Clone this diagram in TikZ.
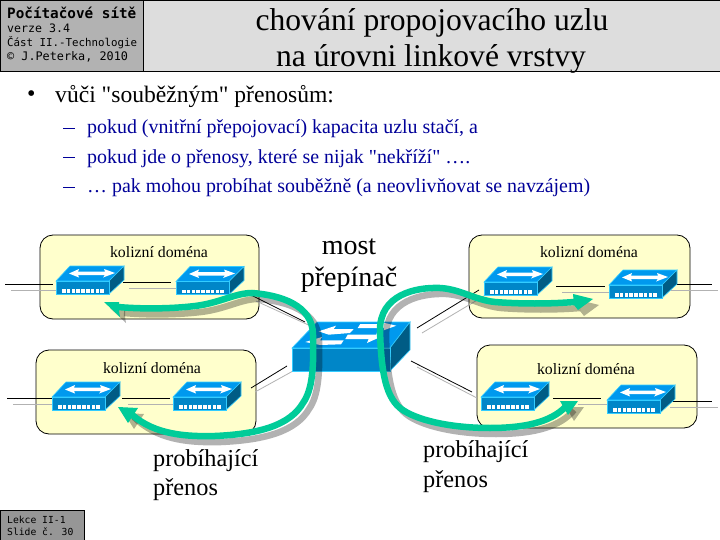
\documentclass[tikz,border=0pt]{standalone}
\usepackage{fontspec}
\setmainfont{Liberation Serif}[Ligatures=TeXOff]
\newfontfamily\monof{DejaVu Sans Mono}
\usetikzlibrary{calc}
\definecolor{hdrdark}{HTML}{B2B2B2}
\definecolor{hdrlight}{HTML}{DDDDDD}
\definecolor{footgray}{HTML}{969696}
\definecolor{domfill}{HTML}{FFFFCC}
\definecolor{netgreen}{HTML}{00CC99}
\definecolor{hubtop}{HTML}{0099EE}
\definecolor{hubfront}{HTML}{0086C8}
\definecolor{hubside}{HTML}{005C85}
\definecolor{hubedge}{HTML}{33CCFF}
\definecolor{txtblue}{HTML}{000099}
\tikzset{
  x=1pt,y=-1pt,
  dombox/.style={draw=black,line width=.8pt,fill=domfill,rounded corners=13pt},
  blackwire/.style={draw=black,line width=.8pt},
  graywire/.style={draw=black!30,line width=.8pt},
  hdr/.style={draw=black,line width=1.6pt},
  mono/.style={font=\monof,anchor=west,inner sep=0pt},
  domlabel/.style={font=\fontsize{15.8}{18}\selectfont,inner sep=0pt},
  biglabel/.style={font=\fontsize{24.3}{28}\selectfont,inner sep=0pt},
  itemtext/.style={anchor=west,inner sep=0pt,text=txtblue,font=\fontsize{19.9}{22}\selectfont},
  itemdash/.style={draw=txtblue,line width=1pt},
  pics/hub/.style={code={
    \fill[hubtop,draw=hubedge,line width=.6pt] (0,0)--(14,-15)--(68,-15)--(53,0)--cycle;
    \fill[hubside,draw=hubedge,line width=.6pt] (53,0)--(68,-15)--(68,-1)--(53,13)--cycle;
    \fill[hubfront,draw=hubedge,line width=.6pt] (0,0)rectangle(53,13);
    \foreach \i in {0,...,8}{\fill[white] (6+\i*4.8,8) rectangle ++(3.6,3.6);}
    \fill[white] (13,-7.5)--(23,-12)--(22,-9.5)--(49,-9.5)--(48,-12)--(59,-8)--(47,-3.5)--(49,-6)--(22,-6)--(23,-3.5)--cycle;
  }},
  pics/bigswitch/.style={code={
    \fill[hubtop,draw=hubedge,line width=.6pt] (0,0)--(25,-26)--(118,-26)--(98,0)--cycle;
    \fill[hubside,draw=hubedge,line width=.6pt] (98,0)--(118,-26)--(118,2)--(98,23)--cycle;
    \fill[hubfront,draw=hubedge,line width=.6pt] (0,0)rectangle(98,23);
    \fill[white] (26.7,-16.7)--(44,-22.3)--(41.7,-19)--(61.7,-19)--(58,-15)--(36.7,-13.3)--cycle;
    \fill[white] (13.3,-6)--(30,-11)--(28,-7.7)--(51.7,-7.7)--(49,-3.7)--(28,-3)--cycle;
    \fill[white] (68.3,-24)--(90,-24)--(90,-25.7)--(104.3,-22.3)--(91.7,-17.7)--(92.3,-20)--(65.7,-20)--cycle;
    \fill[white] (55.7,-13.3)--(84.3,-13.3)--(85,-15.7)--(88.3,-11)--(75,-5)--(76.7,-9)--(53.3,-9)--cycle;
  }},
}
\begin{document}
\begin{tikzpicture}
\useasboundingbox (0,0) rectangle (720,540);
\fill[white] (0,0) rectangle (720,540);
% header
\fill[hdrlight] (144,0) rectangle (720,72);
\fill[hdrdark] (0,0) rectangle (144,72);
\draw[hdr] (0,.5)--(720,.5);
\draw[hdr] (0,71.5)--(720,71.5);
\draw[hdr] (.5,0)--(.5,72);
\draw[hdr] (143.5,0)--(143.5,72);
\node[mono,font=\monof\bfseries\fontsize{14.3}{16}\selectfont] (t1) at (7,13) {Počítačové sítě};
\node[mono,font=\monof\fontsize{11.6}{13}\selectfont] (t2) at (7,28) {verze 3.4};
\node[mono,font=\monof\fontsize{10.8}{13}\selectfont] (t3) at (7,43) {Část II.-Technologie};
\node[mono,font=\monof\fontsize{11.8}{13}\selectfont] (t4) at (7,57) {© J.Peterka, 2010};
\node[font=\fontsize{31.6}{36}\selectfont,inner sep=0pt] (title1) at (432,22.5) {chování propojovacího uzlu};
\node[font=\fontsize{31.6}{36}\selectfont,inner sep=0pt] (title2) at (431,59) {na úrovni linkové vrstvy};
% text
\node[anchor=west,inner sep=0pt,font=\fontsize{24}{26}\selectfont] (bul) at (27,96) {•};
\node[anchor=west,inner sep=0pt,font=\fontsize{23.6}{26}\selectfont] (l0) at (55,97) {vůči "souběžným" přenosům:};
\coordinate (d1a) at (63,128.5); \coordinate (d1b) at (75,128.5);
\coordinate (d2a) at (63,158); \coordinate (d2b) at (75,158);
\coordinate (d3a) at (63,187.5); \coordinate (d3b) at (75,187.5);
\draw[itemdash] (d1a)--(d1b); \draw[itemdash] (d2a)--(d2b); \draw[itemdash] (d3a)--(d3b);
\node[itemtext] (l1) at (87,129) {pokud (vnitřní přepojovací) kapacita uzlu stačí, a};
\node[itemtext] (l2) at (87,159) {pokud jde o přenosy, které se nijak "nekříží" ….};
\node[itemtext] (l3) at (87,188) {… pak mohou probíhat souběžně (a neovlivňovat se navzájem)};
% domains
\draw[dombox] (40,235) rectangle (259,319);
\draw[dombox] (36,350) rectangle (256,434);
\draw[dombox] (469,235) rectangle (690,318);
\draw[dombox] (477,345) rectangle (697,428);
\node[domlabel] (k1) at (159,252.5) {kolizní doména};
\node[domlabel] (k2) at (152,368.5) {kolizní doména};
\node[domlabel] (k3) at (589,252) {kolizní doména};
\node[domlabel] (k4) at (586,369) {kolizní doména};
% wires: black then gray
\foreach \a/\b/\c/\d in {5/284/53/284, 123/282/171/282, 7/398.5/52/398.5, 122/398/170/398,
   556/286/605/286, 676/284/712/284, 553/398/601/398, 672/401/712/401,
   251/295/305/322, 251/388/287/366, 479/290/417/328, 411/361/472/392}{
  \coordinate (wa) at (\a,\b); \coordinate (wb) at (\c,\d);
  \draw[blackwire] (wa)--(wb);}
\foreach \a/\b/\c/\d in {11/290.5/56/290.5, 129/288/176/288, 13/404/52/404, 128/404/173/404,
   562/292/609/292, 671/290/718/290, 578/404/607/404, 670/407/718/407,
   256/301/315/328, 255/392/293/371, 484/296/422/333, 417/367/477/398}{
  \coordinate (wa) at (\a,\b); \coordinate (wb) at (\c,\d);
  \draw[graywire] (wa)--(wb);}
% hubs
\pic at (56,281) {hub}; \pic at (176,281.5) {hub};
\pic at (52,397) {hub}; \pic at (173,397) {hub};
\pic at (484,282) {hub}; \pic at (609,285) {hub};
\pic at (481,397) {hub}; \pic at (607,400) {hub};
\pic at (292,348) {bigswitch};
% transfers: shadow then green
\def\leftpath{(118,307) .. controls (140,309) and (170,309) .. (195,306)
   .. controls (220,303) and (235,293) .. (252,293)
   .. controls (280,295) and (313,305) .. (313,335)
   .. controls (314,370) and (312,390) .. (303,403)
   .. controls (290,425) and (260,434) .. (215,436)
   .. controls (180,437) and (150,433) .. (128,411)}
\def\lefthead{(104,302)--(119,302)--(119,311)--(120,317)--cycle (118,407)--(138,408)--(128,423)--cycle}
\def\rightpath{(574,302) .. controls (550,304) and (520,304) .. (495,302)
   .. controls (475,300) and (460,289) .. (440,288)
   .. controls (415,287) and (380,295) .. (380,330)
   .. controls (381,365) and (384,395) .. (400,408)
   .. controls (415,420) and (450,428) .. (490,428)
   .. controls (530,428) and (555,420) .. (568,404)}
\def\righthead{(593,299)--(573,294)--(574,305)--(578,310)--cycle (578,401)--(560,401)--(568,415)--cycle}
\begin{scope}[shift={(6,6)}]
  \draw[black,opacity=.3,line width=6.5pt] \leftpath;
  \fill[black,opacity=.3] \lefthead;
  \draw[black,opacity=.3,line width=6.5pt] \rightpath;
  \fill[black,opacity=.3] \righthead;
\end{scope}
\draw[netgreen,line width=6.5pt] \leftpath;
\fill[netgreen] \lefthead;
\draw[netgreen,line width=6.5pt] \rightpath;
\fill[netgreen] \righthead;
% labels
\node[biglabel,font=\fontsize{28}{30}\selectfont] (most) at (349,246.5) {most};
\node[biglabel,font=\fontsize{28}{30}\selectfont] (prep) at (349,280) {přepínač};
\node[biglabel,anchor=west] (p1) at (153,460.5) {probíhající};
\node[biglabel,anchor=west] (p2) at (153,489.5) {přenos};
\node[biglabel,anchor=west] (p3) at (423,451.5) {probíhající};
\node[biglabel,anchor=west] (p4) at (423,481.5) {přenos};
% footer
\fill[footgray,draw=black,line width=1pt] (.5,510.5) rectangle (84,540);
\node[mono,font=\monof\fontsize{9.7}{11}\selectfont] (f1) at (7,519.5) {Lekce II-1};
\node[mono,font=\monof\fontsize{9.7}{11}\selectfont] (f2) at (7,531.5) {Slide č. 30};
\end{tikzpicture}
\end{document}
